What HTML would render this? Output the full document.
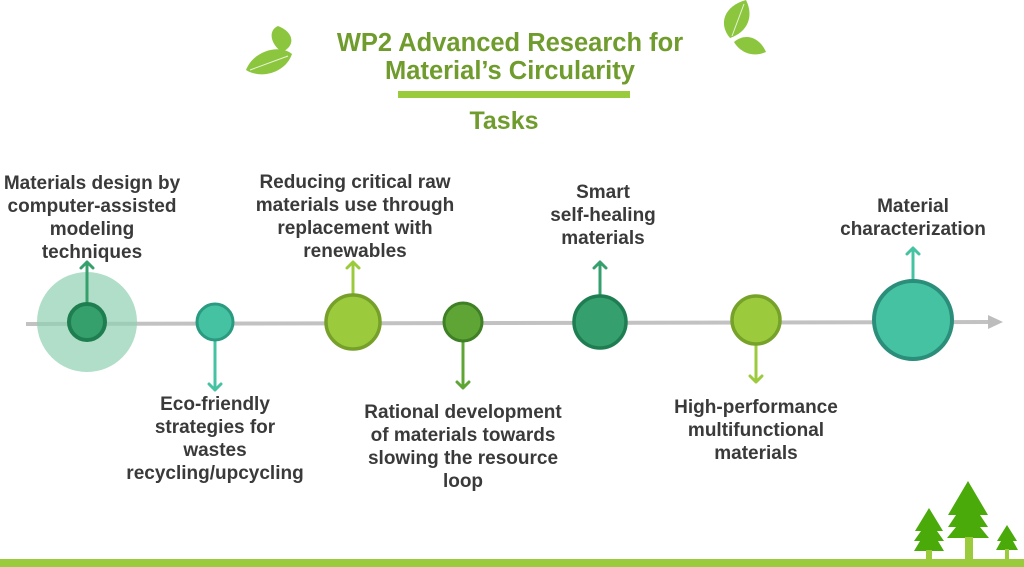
<!DOCTYPE html>
<html><head><style>body{margin:0;background:#fff}svg{display:block}</style></head><body>
<svg width="1024" height="567" viewBox="0 0 1024 567" xmlns="http://www.w3.org/2000/svg">
<!-- leaves -->
<g fill="#8cc63f">
<path d="M246,70 C254,50 280,44 292,54 C286,72 262,80 246,70Z"/>
<path d="M282,52 C270,44 268,30 278,26 C294,32 296,46 282,52Z"/>
<path d="M730,38 C718,24 724,6 746,0 C754,16 748,32 730,38Z"/>
<path d="M734,42 C746,32 760,38 766,52 C752,58 740,52 734,42Z"/>
</g>
<g stroke="#fff" stroke-width="1" fill="none" opacity="0.8"><path d="M250,70 L288,56"/><path d="M744,4 L732,36"/></g>
<g font-family="Liberation Sans, sans-serif" font-weight="bold" text-anchor="middle" fill="#6f9c2c">
<text x="510" y="51" font-size="25.5">WP2 Advanced Research for</text>
<text x="510" y="79" font-size="25.5">Material’s Circularity</text>
<text x="504" y="129" font-size="25">Tasks</text>
</g>
<rect x="398" y="91" width="232" height="7" fill="#9acb3c"/>
<!-- timeline -->
<line x1="26" y1="324" x2="990" y2="322" stroke="#c2c2c2" stroke-width="4"/>
<path d="M988,315 L1003,322 L988,329Z" fill="#bdbdbd"/>
<circle cx="87" cy="322" r="50" fill="#8fd0b0" opacity="0.7"/>
<g stroke-width="3" fill="none" stroke-linecap="round" stroke-linejoin="round">
<path d="M87,304 V262 M81,268 L87,262 L93,268" stroke="#36a06c"/>
<path d="M215,340 V390 M209,384 L215,390 L221,384" stroke="#45c2a2"/>
<path d="M353,295 V262 M347,268 L353,262 L359,268" stroke="#9bcb3c"/>
<path d="M463,341 V388 M457,382 L463,388 L469,382" stroke="#5ea535"/>
<path d="M600,296 V262 M594,268 L600,262 L606,268" stroke="#35a06d"/>
<path d="M756,345 V382 M750,376 L756,382 L762,376" stroke="#9bcb3c"/>
<path d="M913,281 V248 M907,254 L913,248 L919,254" stroke="#45c2a2"/>
</g>
<circle cx="87" cy="322" r="18" fill="#36a06c" stroke="#1e7e50" stroke-width="4"/>
<circle cx="215" cy="322" r="18" fill="#45c2a2" stroke="#2a9a80" stroke-width="3"/>
<circle cx="353" cy="322" r="27" fill="#9bcb3c" stroke="#76a02a" stroke-width="3.5"/>
<circle cx="463" cy="322" r="19" fill="#5ea535" stroke="#3f7f26" stroke-width="3"/>
<circle cx="600" cy="322" r="26" fill="#35a06d" stroke="#1e7e52" stroke-width="3.5"/>
<circle cx="756" cy="320" r="24" fill="#9bcb3c" stroke="#77a22a" stroke-width="3.5"/>
<circle cx="913" cy="320" r="39" fill="#45c2a2" stroke="#2a8e7a" stroke-width="4"/>
<g font-family="Liberation Sans, sans-serif" font-weight="bold" font-size="19" fill="#3a3a3a" text-anchor="middle">
<text x="92" y="189">Materials design by</text>
<text x="92" y="212">computer-assisted</text>
<text x="92" y="235">modeling</text>
<text x="92" y="258">techniques</text>
<text x="215" y="410">Eco-friendly</text>
<text x="215" y="433">strategies for</text>
<text x="215" y="456">wastes</text>
<text x="215" y="479">recycling/upcycling</text>
<text x="355" y="188">Reducing critical raw</text>
<text x="355" y="211">materials use through</text>
<text x="355" y="234">replacement with</text>
<text x="355" y="257">renewables</text>
<text x="463" y="418">Rational development</text>
<text x="463" y="441">of materials towards</text>
<text x="463" y="464">slowing the resource</text>
<text x="463" y="487">loop</text>
<text x="603" y="198">Smart</text>
<text x="603" y="221">self-healing</text>
<text x="603" y="244">materials</text>
<text x="756" y="413">High-performance</text>
<text x="756" y="436">multifunctional</text>
<text x="756" y="459">materials</text>
<text x="913" y="212">Material</text>
<text x="913" y="235">characterization</text>
</g>
<!-- trees -->
<g fill="#4aaa0a">
<path d="M929,508 L943,531 L937,531 L944,541 L938,541 L944,551 L914,551 L920,541 L914,541 L921,531 L915,531Z"/>
<path d="M968,481 L988,515 L980,515 L988,527 L980,527 L989,538 L947,538 L956,527 L948,527 L956,515 L948,515Z"/>
<path d="M1007,525 L1017,541 L1013,541 L1018,550 L996,550 L1001,541 L997,541Z"/>
</g>
<g fill="#9acb3c">
<rect x="926" y="550" width="6" height="10"/><rect x="965" y="537" width="8" height="23"/><rect x="1005" y="549" width="4" height="11"/>
<rect x="0" y="559" width="1024" height="8"/>
</g>
</svg>
</body></html>
